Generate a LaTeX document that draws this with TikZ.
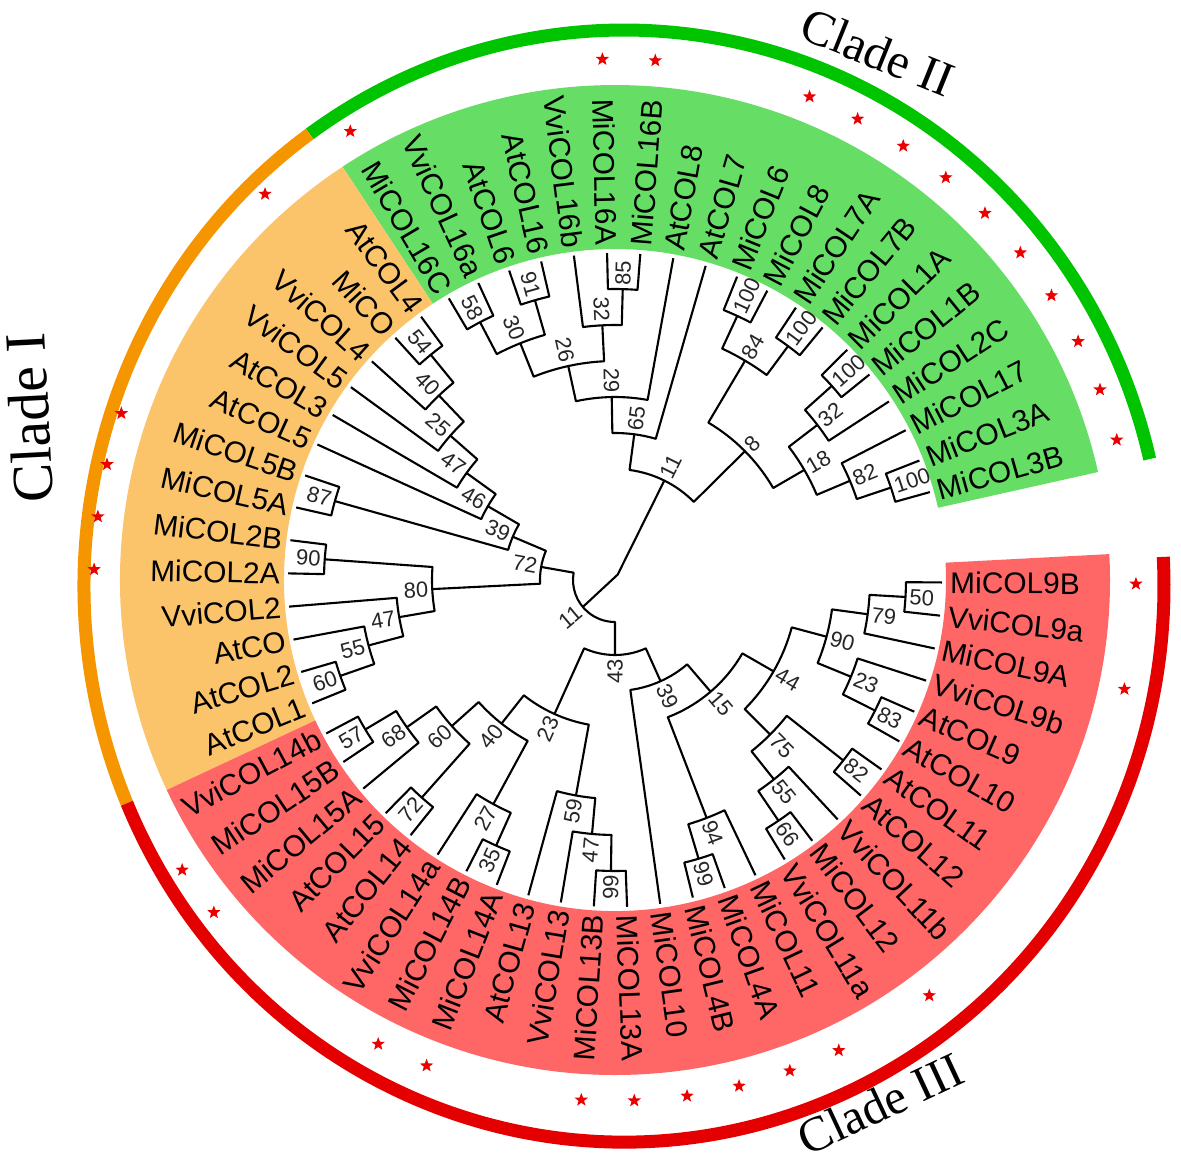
\documentclass[tikz,border=0pt]{standalone}
\usepackage{fontspec}
\setmainfont{Liberation Sans}
\newfontfamily\cladefont{Liberation Serif}
\usetikzlibrary{shapes.geometric}
\definecolor{ringG}{RGB}{0,196,0}
\definecolor{ringO}{RGB}{245,150,0}
\definecolor{ringR}{RGB}{228,0,0}
\definecolor{secG}{RGB}{102,222,102}
\definecolor{secO}{RGB}{252,196,106}
\definecolor{secR}{RGB}{255,102,102}
\definecolor{starred}{RGB}{235,0,0}
\tikzset{
  branch/.style={draw=black, line width=1.2pt, line join=round},
  leaflab/.style={font=\fontsize{17}{20}\selectfont, inner sep=0pt, text=black},
  bootlab/.style={font=\fontsize{12.5}{14}\selectfont, inner sep=1pt, text=black!85},
  ringarc/.style={line width=7.4pt},
  starmark/.style={star, star points=5, star point ratio=2.4, fill=starred, draw=none, inner sep=0pt, minimum size=0.28cm},
  cladelab/.style={font=\cladefont\fontsize{28}{32}\selectfont, inner sep=0pt}
}
% leaf: #1 index, #2 name/text
\newcommand{\lf}[2]{%
  \pgfmathsetmacro\tzA{15.6+5.83*#1}%
  \expandafter\xdef\csname ang@#2\endcsname{\tzA}%
  \coordinate (#2) at (\tzA:327);%
  \pgfmathtruncatemacro\tzL{(\tzA>90 && \tzA<270) ? 1 : 0}%
  \ifnum\tzL=1
    \node[leaflab, anchor=east, rotate=\tzA+180] (t#2) at (\tzA:335) {#2};%
  \else
    \node[leaflab, anchor=west, rotate=\tzA] (t#2) at (\tzA:335) {#2};%
  \fi
}
% internal node: #1 name, #2 #3 children, #4 height, #5 bootstrap
\newcommand{\inode}[5]{%
  \pgfmathsetmacro\tzA{\csname ang@#2\endcsname}%
  \pgfmathsetmacro\tzB{\csname ang@#3\endcsname}%
  \pgfmathsetmacro\tzM{(\tzA+\tzB)/2}%
  \pgfmathsetmacro\tzR{327-36*#4}%
  \pgfmathsetmacro\tzS{\tzR+2}%
  \expandafter\xdef\csname ang@#1\endcsname{\tzM}%
  \draw[branch] (#2) -- (\tzA:\tzR) arc[start angle=\tzA, end angle=\tzB, radius=\tzR] -- (#3);%
  \coordinate (#1) at (\tzM:\tzR);%
  \pgfmathtruncatemacro\tzL{(\tzM>90 && \tzM<270) ? 1 : 0}%
  \ifnum\tzL=1
    \node[bootlab, anchor=east, rotate=\tzM+180] (b#1) at (\tzM:\tzS) {#5};%
  \else
    \node[bootlab, anchor=west, rotate=\tzM] (b#1) at (\tzM:\tzS) {#5};%
  \fi
}
\begin{document}
\begin{tikzpicture}[x=0.02cm, y=0.02cm]
\useasboundingbox (-615,-584) rectangle (566,580);
\fill[white] (-615,-584) rectangle (566,580);
% coloured sectors
\fill[secG] (12.6:331) arc[start angle=12.6, end angle=123.4, radius=331] -- (123.4:495) arc[start angle=123.4, end angle=12.6, radius=495] -- cycle;
\fill[secO] (123.4:331) arc[start angle=123.4, end angle=205.1, radius=331] -- (205.1:495) arc[start angle=205.1, end angle=123.4, radius=495] -- cycle;
\fill[secR] (205.1:331) arc[start angle=205.1, end angle=363, radius=331] -- (363:495) arc[start angle=363, end angle=205.1, radius=495] -- cycle;
% outer rings
\draw[ringarc, ringG] ([shift={(9,-6)}]13.2:540 and 556) arc[start angle=13.2, end angle=125.6, x radius=540, y radius=556];
\draw[ringarc, ringO] ([shift={(9,-6)}]125.6:540 and 556) arc[start angle=125.6, end angle=203, x radius=540, y radius=556];
\draw[ringarc, ringR] ([shift={(9,-6)}]203:540 and 556) arc[start angle=203, end angle=363, x radius=540, y radius=556];
% stars
\foreach \i in {0,1,2,3,4,5,6,7,8,9,12,13,18,20,25,26,27,28,34,35,39,40,43,44,45,46,47,48,50,57,59}{
  \pgfmathsetmacro\tzT{15.6+5.83*\i}
  \node[starmark] (st\i) at (\tzT:521) {};
}
% clade labels
\node[cladelab, rotate=-22] (cladeII) at (263,528) {Clade II};
\node[cladelab, rotate=93, font=\cladefont\fontsize{33}{36}\selectfont] (cladeI) at (-586,162) {Clade I};
\node[cladelab, rotate=25] (cladeIII) at (265,-524) {Clade III};
% leaves
\lf{0}{MiCOL3B}\lf{1}{MiCOL3A}\lf{2}{MiCOL17}\lf{3}{MiCOL2C}\lf{4}{MiCOL1B}
\lf{5}{MiCOL1A}\lf{6}{MiCOL7B}\lf{7}{MiCOL7A}\lf{8}{MiCOL8}\lf{9}{MiCOL6}
\lf{10}{AtCOL7}\lf{11}{AtCOL8}\lf{12}{MiCOL16B}\lf{13}{MiCOL16A}\lf{14}{VviCOL16b}
\lf{15}{AtCOL16}\lf{16}{AtCOL6}\lf{17}{VviCOL16a}\lf{18}{MiCOL16C}
\lf{19}{AtCOL4}\lf{20}{MiCO}\lf{21}{VviCOL4}\lf{22}{VviCOL5}\lf{23}{AtCOL3}
\lf{24}{AtCOL5}\lf{25}{MiCOL5B}\lf{26}{MiCOL5A}\lf{27}{MiCOL2B}\lf{28}{MiCOL2A}
\lf{29}{VviCOL2}\lf{30}{AtCO}\lf{31}{AtCOL2}\lf{32}{AtCOL1}
\lf{33}{VviCOL14b}\lf{34}{MiCOL15B}\lf{35}{MiCOL15A}\lf{36}{AtCOL15}\lf{37}{AtCOL14}
\lf{38}{VviCOL14a}\lf{39}{MiCOL14B}\lf{40}{MiCOL14A}\lf{41}{AtCOL13}\lf{42}{VviCOL13}
\lf{43}{MiCOL13B}\lf{44}{MiCOL13A}\lf{45}{MiCOL10}\lf{46}{MiCOL4B}\lf{47}{MiCOL4A}
\lf{48}{MiCOL11}\lf{49}{VviCOL11a}\lf{50}{MiCOL12}\lf{51}{VviCOL11b}\lf{52}{AtCOL12}
\lf{53}{AtCOL11}\lf{54}{AtCOL10}\lf{55}{AtCOL9}\lf{56}{VviCOL9b}\lf{57}{MiCOL9A}
\lf{58}{VviCOL9a}\lf{59}{MiCOL9B}
% clade II
\inode{a100}{MiCOL3A}{MiCOL3B}{1}{100}
\inode{a82}{MiCOL17}{a100}{2}{82}
\inode{b100}{MiCOL1A}{MiCOL1B}{1}{100}
\inode{a32}{b100}{MiCOL2C}{2}{32}
\inode{a18}{a32}{a82}{3}{18}
\inode{c100}{MiCOL7A}{MiCOL7B}{1}{100}
\inode{d100}{MiCOL6}{MiCOL8}{1}{100}
\inode{a84}{d100}{c100}{2}{84}
\inode{a8}{a84}{a18}{4}{8}
\inode{a58}{MiCOL16C}{VviCOL16a}{1}{58}
\inode{a91}{AtCOL6}{AtCOL16}{1}{91}
\inode{a30}{a58}{a91}{2}{30}
\inode{a85}{MiCOL16A}{MiCOL16B}{1}{85}
\inode{b32}{VviCOL16b}{a85}{2}{32}
\inode{a26}{a30}{b32}{3}{26}
\inode{a29}{a26}{AtCOL8}{4}{29}
\inode{a65}{a29}{AtCOL7}{5}{65}
\inode{a11}{a65}{a8}{6}{11}
% clade I
\inode{b54}{AtCOL4}{MiCO}{1}{54}
\inode{b40}{b54}{VviCOL4}{2}{40}
\inode{b25}{b40}{VviCOL5}{3}{25}
\inode{b47}{b25}{AtCOL3}{4}{47}
\inode{b46}{b47}{AtCOL5}{5}{46}
\inode{b87}{MiCOL5B}{MiCOL5A}{1}{87}
\inode{b39}{b46}{b87}{6}{39}
\inode{b90}{MiCOL2B}{MiCOL2A}{1}{90}
\inode{b60}{AtCOL2}{AtCOL1}{1}{60}
\inode{b55}{AtCO}{b60}{2}{55}
\inode{c47}{VviCOL2}{b55}{3}{47}
\inode{b80}{b90}{c47}{4}{80}
\inode{b72}{b39}{b80}{7}{72}
% clade III
\inode{c57}{VviCOL14b}{MiCOL15B}{1}{57}
\inode{c68}{c57}{MiCOL15A}{2}{68}
\inode{c72}{AtCOL15}{AtCOL14}{1}{72}
\inode{c60}{c68}{c72}{3}{60}
\inode{c35}{MiCOL14B}{MiCOL14A}{1}{35}
\inode{c27}{VviCOL14a}{c35}{2}{27}
\inode{c40}{c60}{c27}{4}{40}
\inode{c99}{MiCOL13B}{MiCOL13A}{1}{99}
\inode{d47}{VviCOL13}{c99}{2}{47}
\inode{c59}{AtCOL13}{d47}{3}{59}
\inode{c23}{c40}{c59}{5}{23}
\inode{d99}{MiCOL4B}{MiCOL4A}{1}{99}
\inode{c94}{d99}{MiCOL11}{2}{94}
\inode{c66}{VviCOL11a}{MiCOL12}{1}{66}
\inode{c55}{c66}{VviCOL11b}{2}{55}
\inode{c82}{AtCOL12}{AtCOL11}{1}{82}
\inode{c75}{c55}{c82}{3}{75}
\inode{c83}{AtCOL10}{AtCOL9}{1}{83}
\inode{d23}{c83}{VviCOL9b}{2}{23}
\inode{c50}{VviCOL9a}{MiCOL9B}{1}{50}
\inode{c79}{MiCOL9A}{c50}{2}{79}
\inode{c90}{d23}{c79}{3}{90}
\inode{c44}{c75}{c90}{4}{44}
\inode{c15}{c94}{c44}{5}{15}
\inode{c39}{MiCOL10}{c15}{6}{39}
\inode{c43}{c23}{c39}{7}{43}
% root
\pgfmathsetmacro\tzA{\csname ang@b72\endcsname}
\pgfmathsetmacro\tzB{\csname ang@c43\endcsname}
\pgfmathsetmacro\tzM{(\tzA+\tzB)/2}
\pgfmathsetmacro\tzC{\csname ang@a11\endcsname}
\draw[branch] (b72) -- (\tzA:42) arc[start angle=\tzA, end angle=\tzB, radius=42] -- (c43);
\coordinate (root) at (\tzM:42);
\coordinate (kink) at (\tzC:6);
\draw[branch] (root) -- (kink) -- (a11);
\node[bootlab, anchor=east, rotate=\tzM+180] (broot) at (\tzM:45) {11};
\end{tikzpicture}
\end{document}
